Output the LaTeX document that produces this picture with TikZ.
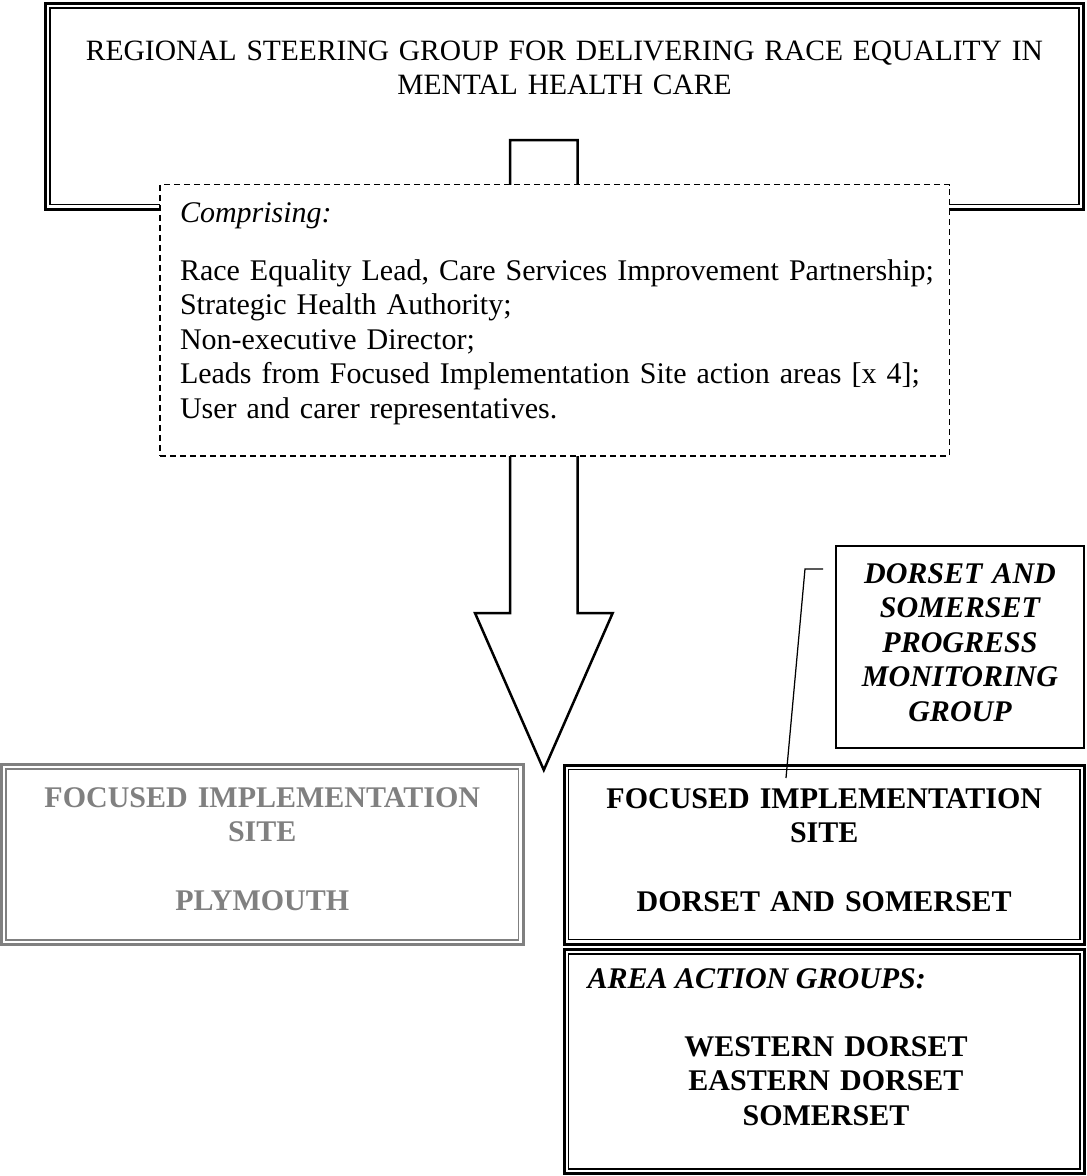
\documentclass[tikz,border=0pt]{standalone}
\usepackage{fontspec}
\setmainfont{Liberation Serif}
\usetikzlibrary{fit}
\definecolor{plymgrey}{HTML}{808080}

\tikzset{
  frame/.style={draw, line width=1.2pt, inner sep=0pt, outer sep=0pt},
  innerframe/.style={line width=0.65pt},
  calloutbox/.style={draw, dash pattern=on 2.4pt off 1.6pt, line width=0.6pt, fill=white, inner sep=0pt, outer sep=0pt},
  plainbox/.style={draw, line width=0.7pt, inner sep=0pt, outer sep=0pt},
  lbl/.style={inner sep=0pt, align=center, anchor=base, font=\fontsize{12pt}{13.8pt}\selectfont},
  boldlbl/.style={lbl, font=\fontsize{12pt}{13.8pt}\selectfont\bfseries},
  bilbl/.style={lbl, font=\fontsize{12pt}{13.8pt}\selectfont\bfseries\itshape},
}

\begin{document}
\begin{tikzpicture}[x=0.4pt,y=-0.4pt]
\useasboundingbox (0,0) rectangle (1087,1176);

\node[frame, fit={(45.5,3.5) (1083.5,209)}] (steer) {};
\draw[innerframe] ([shift={(1.8pt,-1.8pt)}]steer.north west) rectangle ([shift={(-1.8pt,1.8pt)}]steer.south east);
\node[lbl, text width=420pt, font=\fontsize{11.8pt}{13.8pt}\selectfont] (steertxt) at (564.5,60) {REGIONAL STEERING GROUP FOR DELIVERING RACE EQUALITY IN\\ MENTAL HEALTH CARE};

\draw[line width=1pt, fill=white, line join=miter] (510,140) -- (510,613) -- (475,613) -- (543.8,770) -- (612.7,613) -- (577.7,613) -- (577.7,140) -- cycle;

\node[calloutbox, fit={(160.2,184.5) (949.3,456)}] (comprise) {};
\node[lbl, align=left, text width=310pt, anchor=base west] (comprisetxt) at (179.5,222) {\textit{Comprising:}\\[9.4pt]
Race Equality Lead, Care Services Improvement Partnership;\\
Strategic Health Authority;\\
Non-executive Director;\\
Leads from Focused Implementation Site action areas [x 4];\\
User and carer representatives.};

\node[frame, draw=plymgrey, fit={(1.5,764.5) (523,944.5)}] (plym) {};
\draw[innerframe, plymgrey] ([shift={(1.8pt,-1.8pt)}]plym.north west) rectangle ([shift={(-1.8pt,1.8pt)}]plym.south east);
\node[boldlbl, text width=200pt, text=plymgrey] (plymtxt) at (262.25,807) {FOCUSED IMPLEMENTATION\\ SITE\\[13.8pt] PLYMOUTH};

\node[frame, fit={(564,765) (1084.5,944)}] (fis) {};
\node[frame, fit={(564,949.5) (1084.5,1173.5)}] (aag) {};
\foreach \n in {fis,aag}
  \draw[innerframe] ([shift={(1.8pt,-1.8pt)}]\n.north west) rectangle ([shift={(-1.8pt,1.8pt)}]\n.south east);
\node[boldlbl, text width=200pt] (fistxt) at (824.25,808) {FOCUSED IMPLEMENTATION\\ SITE\\[13.8pt] DORSET AND SOMERSET};
\node[bilbl, anchor=base west] (aagtitle) at (587,988) {AREA ACTION GROUPS:};
\node[boldlbl, text width=200pt] (aagtxt) at (826,1056) {WESTERN DORSET\\ EASTERN DORSET\\ SOMERSET};

\node[plainbox, fit={(836.3,546.3) (1083.7,748.3)}] (monitor) {};
\node[bilbl, text width=95pt] (monitortxt) at (960,583) {DORSET AND\\ SOMERSET\\ PROGRESS\\ MONITORING\\ GROUP};

\coordinate (leadstart) at (823,569);
\coordinate (leadbend) at (805,569);
\coordinate (leadend) at (786,778);
\draw[line width=0.5pt] (leadstart) -- (leadbend) -- (leadend);
\end{tikzpicture}
\end{document}
